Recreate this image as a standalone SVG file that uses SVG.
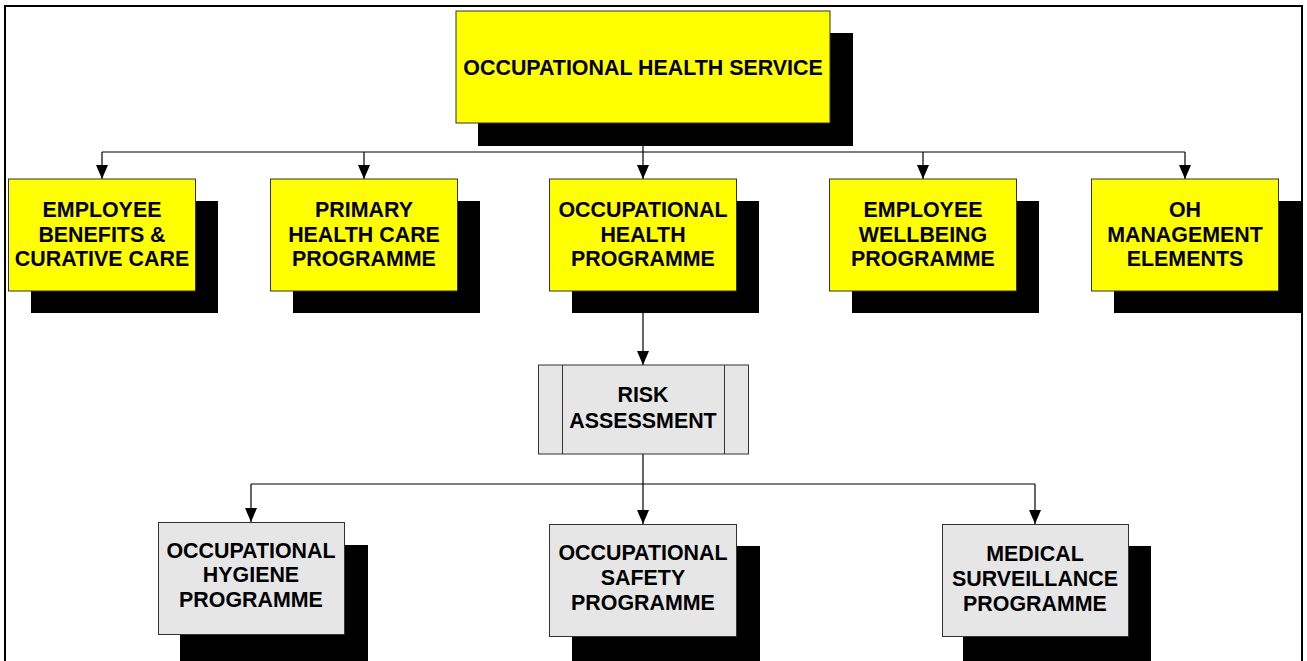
<svg xmlns="http://www.w3.org/2000/svg" width="1307" height="661" viewBox="0 0 1307 661">
<style>
.frame{stroke:#000;stroke-width:2;fill:none}
.sh{fill:#000}
.y{fill:#ffff00;stroke:#333;stroke-width:1}
.g{fill:#e6e6e6;stroke:#333;stroke-width:1}
.t{font-family:"Liberation Sans",Arial,sans-serif;font-weight:bold;font-size:21.4px;fill:#000;text-anchor:middle}
.c{stroke:#000;stroke-width:1.2;fill:none}
</style>
<defs>
<marker id="ah" viewBox="0 0 14 12" refX="14" refY="6" markerWidth="14" markerHeight="12" markerUnits="userSpaceOnUse" orient="auto">
<path d="M0,0 L14,6 L0,12 Z" fill="#000"/>
</marker>
</defs>
<rect width="1307" height="661" fill="#fff"/>
<g id="frame">
<line class="frame" x1="4" y1="6" x2="1303" y2="6"/>
<line class="frame" x1="5" y1="5" x2="5" y2="661"/>
<line class="frame" x1="1302" y1="5" x2="1302" y2="661"/>
</g>
<g id="connectors">
<line class="c" x1="643" y1="123" x2="643" y2="152"/>
<line class="c" x1="102" y1="152" x2="1185" y2="152"/>
<line class="c" x1="102" y1="152" x2="102" y2="179" marker-end="url(#ah)"/>
<line class="c" x1="364" y1="152" x2="364" y2="179" marker-end="url(#ah)"/>
<line class="c" x1="643" y1="152" x2="643" y2="179" marker-end="url(#ah)"/>
<line class="c" x1="923" y1="152" x2="923" y2="179" marker-end="url(#ah)"/>
<line class="c" x1="1185" y1="152" x2="1185" y2="179" marker-end="url(#ah)"/>
<line class="c" x1="643" y1="313" x2="643" y2="365" marker-end="url(#ah)"/>
<line class="c" x1="643" y1="454" x2="643" y2="484"/>
<line class="c" x1="251" y1="484" x2="1035" y2="484"/>
<line class="c" x1="251" y1="484" x2="251" y2="522" marker-end="url(#ah)"/>
<line class="c" x1="643" y1="484" x2="643" y2="524" marker-end="url(#ah)"/>
<line class="c" x1="1035" y1="484" x2="1035" y2="524" marker-end="url(#ah)"/>
</g>
<g id="n-ohs">
<rect class="sh" x="478" y="33" width="375" height="113"/>
<rect class="y" x="456" y="11" width="374" height="112"/>
<text class="t" x="643" y="74.5">OCCUPATIONAL HEALTH SERVICE</text>
</g>
<g id="n-ebcc">
<rect class="sh" x="31" y="201" width="187" height="112"/>
<rect class="y" x="8.5" y="179" width="187" height="112"/>
<text class="t" x="102" y="217">EMPLOYEE</text>
<text class="t" x="102" y="241.5">BENEFITS &amp;</text>
<text class="t" x="102" y="266">CURATIVE CARE</text>
</g>
<g id="n-phc">
<rect class="sh" x="293" y="201" width="187" height="112"/>
<rect class="y" x="270.5" y="179" width="187" height="112"/>
<text class="t" x="364" y="217">PRIMARY</text>
<text class="t" x="364" y="241.5">HEALTH CARE</text>
<text class="t" x="364" y="266">PROGRAMME</text>
</g>
<g id="n-ohp">
<rect class="sh" x="572" y="201" width="187" height="112"/>
<rect class="y" x="549.5" y="179" width="187" height="112"/>
<text class="t" x="643" y="217">OCCUPATIONAL</text>
<text class="t" x="643" y="241.5">HEALTH</text>
<text class="t" x="643" y="266">PROGRAMME</text>
</g>
<g id="n-ewp">
<rect class="sh" x="852" y="201" width="187" height="112"/>
<rect class="y" x="829.5" y="179" width="187" height="112"/>
<text class="t" x="923" y="217">EMPLOYEE</text>
<text class="t" x="923" y="241.5">WELLBEING</text>
<text class="t" x="923" y="266">PROGRAMME</text>
</g>
<g id="n-ohme">
<rect class="sh" x="1114" y="201" width="187" height="112"/>
<rect class="y" x="1091.5" y="179" width="187" height="112"/>
<text class="t" x="1185" y="217">OH</text>
<text class="t" x="1185" y="241.5">MANAGEMENT</text>
<text class="t" x="1185" y="266">ELEMENTS</text>
</g>
<g id="n-ra">
<rect class="g" x="538.5" y="365" width="210" height="89"/>
<line class="g" x1="562.5" y1="365" x2="562.5" y2="454"/>
<line class="g" x1="724.5" y1="365" x2="724.5" y2="454"/>
<text class="t" x="643" y="402">RISK</text>
<text class="t" x="643" y="428">ASSESSMENT</text>
</g>
<g id="n-ohyg">
<rect class="sh" x="180" y="545" width="188" height="120"/>
<rect class="g" x="158.5" y="522.5" width="186" height="112"/>
<text class="t" x="251" y="557.5">OCCUPATIONAL</text>
<text class="t" x="251" y="582">HYGIENE</text>
<text class="t" x="251" y="607">PROGRAMME</text>
</g>
<g id="n-osp">
<rect class="sh" x="572" y="546" width="188" height="120"/>
<rect class="g" x="549.5" y="524.5" width="187" height="112"/>
<text class="t" x="643" y="560">OCCUPATIONAL</text>
<text class="t" x="643" y="585">SAFETY</text>
<text class="t" x="643" y="610">PROGRAMME</text>
</g>
<g id="n-msp">
<rect class="sh" x="963" y="546" width="188" height="120"/>
<rect class="g" x="942.5" y="524.5" width="186" height="112"/>
<text class="t" x="1035" y="560.5">MEDICAL</text>
<text class="t" x="1035" y="586">SURVEILLANCE</text>
<text class="t" x="1035" y="611">PROGRAMME</text>
</g>
</svg>
